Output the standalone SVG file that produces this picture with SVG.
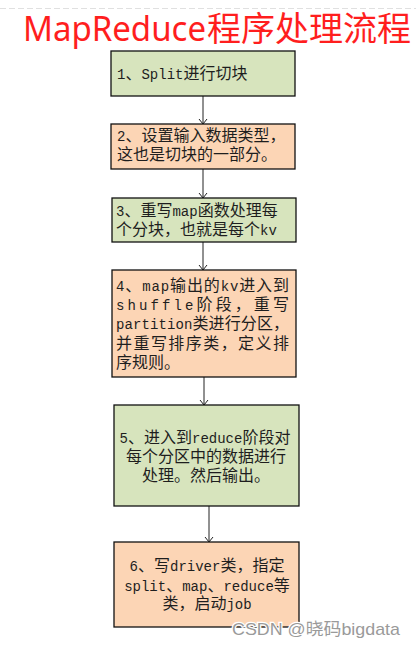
<svg xmlns="http://www.w3.org/2000/svg" width="416" height="648" viewBox="0 0 416 648">
<style>
.title{font-family:"Noto Sans","Noto Sans CJK SC",sans-serif;font-size:34px;fill:#ff1e1e}
.green{fill:#d7e4bd;stroke:#111;stroke-width:1.3}
.orange{fill:#fcd5b5;stroke:#111;stroke-width:1.3}
.t{font-family:"Noto Sans CJK SC",sans-serif;font-size:16px;fill:#1e1e1e}
.m{font-family:"Liberation Mono","Noto Sans CJK SC",monospace;font-size:14px}
.c{text-anchor:middle}
.conn{stroke:#222;stroke-width:1;fill:none;marker-end:url(#arr)}
.wm{font-family:"Liberation Sans","Noto Sans CJK SC",sans-serif;font-size:17px;fill:#9a9a9a;stroke:#fff;stroke-width:2.5;paint-order:stroke}
</style>
<defs>
<marker id="arr" markerUnits="userSpaceOnUse" markerWidth="8" markerHeight="10" viewBox="-6 -5 7 10" refX="0" refY="0" orient="auto">
<path d="M-5,-4 L0,0 L-5,4" fill="none" stroke="#222" stroke-width="1"/>
</marker>
</defs>
<rect width="416" height="648" fill="#fff"/>
<line x1="0" y1="8.5" x2="416" y2="8.5" stroke="#e0e0e0" stroke-width="1" stroke-dasharray="6,3"/>
<text class="title" x="23" y="41"><tspan textLength="183" lengthAdjust="spacingAndGlyphs">MapReduce</tspan><tspan x="207" font-family="Noto Sans CJK SC, sans-serif">程序处理流程</tspan></text>

<g id="connectors">
<line class="conn" x1="203" y1="96" x2="203" y2="124"/>
<line class="conn" x1="203" y1="169" x2="203" y2="198"/>
<line class="conn" x1="203" y1="242" x2="203" y2="270"/>
<line class="conn" x1="204" y1="377" x2="204" y2="405"/>
<line class="conn" x1="209" y1="506" x2="209" y2="542"/>
</g>

<g id="node1">
<rect class="green" x="111" y="51" width="184" height="45"/>
<text class="t" x="117" y="79"><tspan class="m">1</tspan>、<tspan class="m">Split</tspan>进行切块</text>
</g>

<g id="node2">
<rect class="orange" x="111" y="124" width="184" height="45"/>
<text class="t" x="117" y="141"><tspan class="m">2</tspan>、设置输入数据类型，</text>
<text class="t" x="117" y="160">这也是切块的一部分。</text>
</g>

<g id="node3">
<rect class="green" x="112" y="198" width="184" height="44"/>
<text class="t" x="116" y="216"><tspan class="m">3</tspan>、重写<tspan class="m">map</tspan>函数处理每</text>
<text class="t" x="116" y="235">个分块，也就是每个<tspan class="m">kv</tspan></text>
</g>

<g id="node4">
<rect class="orange" x="112" y="270" width="184" height="107"/>
<text class="t" x="116" y="291" textLength="173" lengthAdjust="spacing"><tspan class="m">4</tspan>、<tspan class="m">map</tspan>输出的<tspan class="m">kv</tspan>进入到</text>
<text class="t" x="116" y="310" textLength="173" lengthAdjust="spacing"><tspan class="m">shuffle</tspan>阶段，重写</text>
<text class="t" x="116" y="329" textLength="173" lengthAdjust="spacing"><tspan class="m">partition</tspan>类进行分区，</text>
<text class="t" x="116" y="349" textLength="173" lengthAdjust="spacing">并重写排序类，定义排</text>
<text class="t" x="116" y="368">序规则。</text>
</g>

<g id="node5">
<rect class="green" x="114" y="405" width="185" height="101"/>
<text class="t c" x="205" y="443"><tspan class="m">5</tspan>、进入到<tspan class="m">reduce</tspan>阶段对</text>
<text class="t c" x="206" y="462">每个分区中的数据进行</text>
<text class="t c" x="206" y="481">处理。然后输出。</text>
</g>

<g id="node6">
<rect class="orange" x="114" y="542" width="185" height="85"/>
<text class="t c" x="207" y="571"><tspan class="m">6</tspan>、写<tspan class="m">driver</tspan>类，指定</text>
<text class="t c" x="207" y="591"><tspan class="m">split</tspan>、<tspan class="m">map</tspan>、<tspan class="m">reduce</tspan>等</text>
<text class="t c" x="207" y="609">类，启动<tspan class="m">job</tspan></text>
</g>

<text class="wm" x="232" y="635" textLength="168" lengthAdjust="spacingAndGlyphs">CSDN @晓码bigdata</text>
</svg>
